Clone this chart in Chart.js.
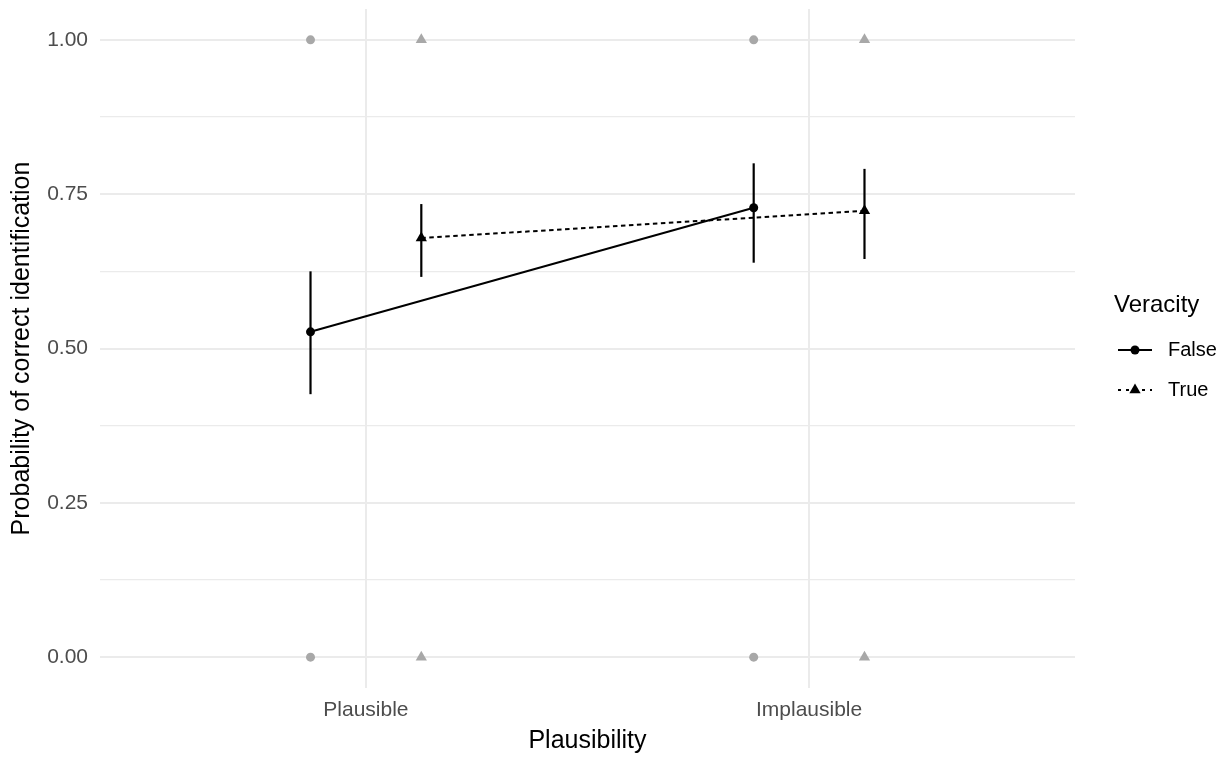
<!DOCTYPE html>
<html>
<head>
<meta charset="utf-8">
<script src="https://cdn.jsdelivr.net/npm/chart.js@4.4.1/dist/chart.umd.min.js"></script>
<style>
  html, body { margin: 0; padding: 0; background: #fff; }
  #wrap { width: 1232px; height: 758px; }
</style>
</head>
<body>
<div id="wrap"><canvas id="plot"></canvas></div>
<script>
// categories on the x axis and the two Veracity groups
const categories = ['Plausible', 'Implausible'];
const groups = ['False', 'True'];
const dodge = [-0.125, 0.125];

// estimated probabilities with their intervals
const falseMean = [0.527, 0.728];
const falseLow = [0.426, 0.639];
const falseHigh = [0.625, 0.800];
const trueMean = [0.679, 0.723];
const trueLow = [0.616, 0.645];
const trueHigh = [0.734, 0.791];

// raw responses (incorrect / correct)
const rawValues = [0, 1];

const yTicks = [0, 0.125, 0.25, 0.375, 0.5, 0.625, 0.75, 0.875, 1];
const yMajor = [0, 0.25, 0.5, 0.75, 1];

const FONT = '"Liberation Sans", Arial, sans-serif';
const means = [falseMean, trueMean];
const lows = [falseLow, trueLow];
const highs = [falseHigh, trueHigh];
const shapes = ['circle', 'triangle'];
const sizes = [4.5, 6.5];
const dashes = [[], [4.5, 3.5]];

const datasets = [];

// grey raw data points at 0 and 1
groups.forEach((g, s) => {
  datasets.push({
    label: 'raw ' + g,
    data: categories.flatMap((c, i) => rawValues.map(v => ({ x: i + 1 + dodge[s], y: v }))),
    pointStyle: shapes[s],
    pointRadius: sizes[s],
    backgroundColor: '#a8a8a8',
    borderColor: '#a8a8a8',
    borderWidth: 0,
    showLine: false
  });
});

// error bars
groups.forEach((g, s) => {
  categories.forEach((c, i) => {
    datasets.push({
      label: 'err ' + g + ' ' + c,
      data: [{ x: i + 1 + dodge[s], y: lows[s][i] }, { x: i + 1 + dodge[s], y: highs[s][i] }],
      showLine: true,
      borderColor: '#000',
      borderWidth: 2.2,
      pointRadius: 0
    });
  });
});

// mean lines and points
groups.forEach((g, s) => {
  datasets.push({
    label: g,
    data: categories.map((c, i) => ({ x: i + 1 + dodge[s], y: means[s][i] })),
    showLine: true,
    borderColor: '#000',
    borderWidth: 2,
    borderDash: dashes[s],
    pointStyle: shapes[s],
    pointRadius: sizes[s],
    pointBackgroundColor: '#000',
    pointBorderColor: '#000',
    pointBorderWidth: 0
  });
});

// ggplot-like legend on the right
const veracityLegend = {
  id: 'veracityLegend',
  afterDraw(chart) {
    const ctx = chart.ctx;
    const x0 = chart.chartArea.right + 39;
    ctx.save();
    ctx.fillStyle = '#000';
    ctx.textBaseline = 'middle';
    ctx.font = '24px ' + FONT;
    ctx.fillText('Veracity', x0, 305);
    const rows = [350, 390];
    groups.forEach((g, s) => {
      const y = rows[s];
      ctx.strokeStyle = '#000';
      ctx.lineWidth = 2.2;
      ctx.setLineDash(dashes[s].length ? [3, 5] : []);
      ctx.beginPath();
      ctx.moveTo(x0 + 4, y);
      ctx.lineTo(x0 + 38, y);
      ctx.stroke();
      ctx.setLineDash([]);
      ctx.fillStyle = '#000';
      Chart.helpers.drawPoint(ctx, { pointStyle: shapes[s], radius: sizes[s], borderWidth: 0 }, x0 + 21, y);
      ctx.fillStyle = '#000';
      ctx.font = '20px ' + FONT;
      ctx.fillText(g, x0 + 54, y);
    });
    ctx.restore();
  }
};

new Chart(document.getElementById('plot'), {
  type: 'scatter',
  data: { datasets: datasets },
  options: {
    responsive: true,
    maintainAspectRatio: false,
    animation: false,
    layout: { padding: { top: 9, right: 157, bottom: 0, left: 0 } },
    plugins: {
      legend: { display: false },
      tooltip: { enabled: false }
    },
    scales: {
      x: {
        type: 'linear',
        min: 0.4,
        max: 2.6,
        afterBuildTicks: (scale) => { scale.ticks = categories.map((c, i) => ({ value: i + 1 })); },
        afterFit: (scale) => {
          scale.height = 70;
          scale.paddingLeft = 0;
          scale.paddingRight = 0;
        },
        border: { display: false },
        grid: { color: '#ebebeb', lineWidth: 2, drawTicks: false },
        ticks: {
          padding: 10,
          color: '#4d4d4d',
          font: { family: FONT, size: 21 },
          callback: (v) => categories[v - 1]
        },
        title: {
          display: true,
          text: 'Plausibility',
          color: '#000',
          font: { family: FONT, size: 25 },
          padding: { top: 0, bottom: 2 }
        }
      },
      y: {
        min: -0.05,
        max: 1.05,
        afterBuildTicks: (scale) => { scale.ticks = yTicks.map(v => ({ value: v })); },
        afterFit: (scale) => {
          scale.width = 100;
          scale.paddingTop = 0;
          scale.paddingBottom = 0;
        },
        border: { display: false },
        grid: {
          color: '#ebebeb',
          drawTicks: false,
          lineWidth: (ctx) => yMajor.includes(ctx.tick.value) ? 2 : 1.2
        },
        ticks: {
          padding: 12,
          color: '#4d4d4d',
          font: { family: FONT, size: 21 },
          callback: (v) => yMajor.includes(v) ? v.toFixed(2) : ''
        },
        title: {
          display: true,
          text: 'Probability of correct identification',
          color: '#000',
          font: { family: FONT, size: 25 },
          padding: { top: 7, bottom: 0 }
        }
      }
    }
  },
  plugins: [veracityLegend]
});
</script>
</body>
</html>
